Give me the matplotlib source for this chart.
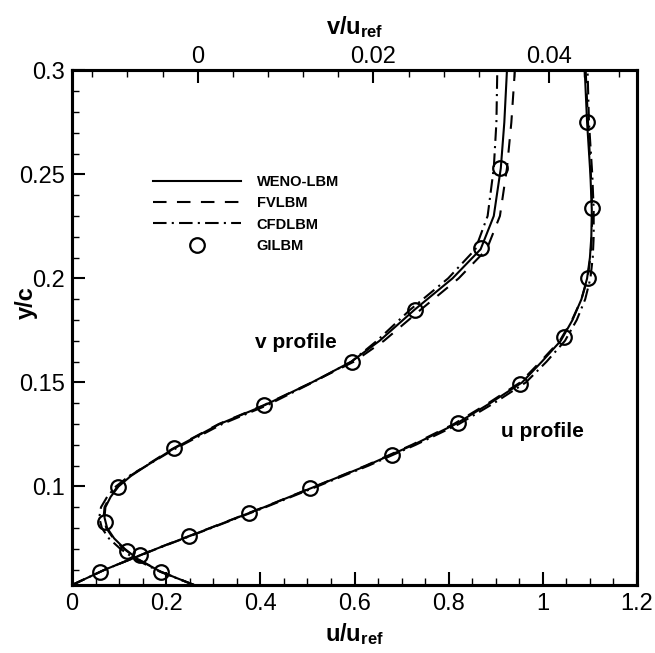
import matplotlib
matplotlib.use("Agg")
import matplotlib.pyplot as plt
from matplotlib.ticker import MultipleLocator, FuncFormatter, FixedLocator

plt.rcParams['font.family'] = ['Liberation Sans', 'DejaVu Sans']
plt.rcParams['mathtext.fontset'] = 'custom'
plt.rcParams['mathtext.rm'] = 'Liberation Sans'
plt.rcParams['mathtext.bf'] = 'Liberation Sans:bold'
plt.rcParams['mathtext.it'] = 'Liberation Sans:italic'

# ---------------- data ----------------
# u profile (bottom axis u/u_ref)
u_y = [0.0526, 0.06, 0.07, 0.08, 0.09, 0.10, 0.11, 0.12, 0.13, 0.14, 0.15, 0.16,
       0.17, 0.18, 0.19, 0.20, 0.21, 0.22, 0.233, 0.25, 0.275, 0.30]
u_weno = [0.0, 0.07, 0.179, 0.294, 0.408, 0.517, 0.626, 0.725, 0.815, 0.888, 0.956, 0.998,
          1.038, 1.063, 1.082, 1.094, 1.100, 1.103, 1.104, 1.101, 1.094, 1.089]
u_fv = [0.0, 0.07, 0.178, 0.293, 0.407, 0.516, 0.624, 0.722, 0.811, 0.884, 0.952, 0.995,
        1.036, 1.062, 1.082, 1.095, 1.101, 1.104, 1.105, 1.102, 1.096, 1.091]
u_cfd = [0.0, 0.07, 0.180, 0.296, 0.411, 0.521, 0.630, 0.730, 0.822, 0.896, 0.964, 1.008,
         1.047, 1.072, 1.090, 1.101, 1.106, 1.108, 1.108, 1.105, 1.098, 1.095]
u_gil_y = [0.0590, 0.0670, 0.0761, 0.087, 0.099, 0.115, 0.1305, 0.149, 0.172, 0.200, 0.234, 0.275]
u_gil = [0.0595, 0.144, 0.249, 0.376, 0.506, 0.680, 0.820, 0.952, 1.046, 1.096, 1.105, 1.094]

# v profile (top axis v/u_ref)
v_y = [0.0526, 0.059, 0.065, 0.07, 0.075, 0.08, 0.085, 0.09, 0.095, 0.10, 0.105, 0.11,
       0.118, 0.13, 0.139, 0.15, 0.16, 0.17, 0.185, 0.20, 0.214, 0.23, 0.253, 0.275, 0.30]
v_weno = [-0.0004, -0.0042, -0.0068, -0.0083, -0.0095, -0.0103, -0.0106, -0.0105, -0.0099,
          -0.0090, -0.0076, -0.0058, -0.0028, 0.0025, 0.0076, 0.0130, 0.0175, 0.0207,
          0.0247, 0.0290, 0.0322, 0.0337, 0.0345, 0.0349, 0.0352]
v_fv = [-0.0004, -0.0042, -0.0068, -0.0084, -0.0096, -0.0104, -0.0107, -0.0106, -0.0100,
        -0.0091, -0.0077, -0.0059, -0.0029, 0.0024, 0.0075, 0.0130, 0.0178, 0.0212,
        0.0254, 0.0297, 0.0329, 0.0344, 0.0352, 0.0357, 0.0361]
v_cfd = [-0.0004, -0.0043, -0.0071, -0.0088, -0.0101, -0.0109, -0.0112, -0.0110, -0.0103,
         -0.0093, -0.0078, -0.0058, -0.0026, 0.0028, 0.0079, 0.0131, 0.0175, 0.0204,
         0.0242, 0.0285, 0.0316, 0.0330, 0.0337, 0.0340, 0.0341]
v_gil_y = [0.0590, 0.0691, 0.0830, 0.0995, 0.1183, 0.139, 0.160, 0.185, 0.2144, 0.253]
v_gil = [-0.00416, -0.0080, -0.01058, -0.0091, -0.00273, 0.00759, 0.0176, 0.0247, 0.0323, 0.0344]

labels = ['WENO-LBM', 'FVLBM', 'CFDLBM', 'GILBM']
u_ticks = [0, 0.2, 0.4, 0.6, 0.8, 1.0, 1.2]
v_ticks = [0, 0.02, 0.04]
y_ticks = [0.1, 0.15, 0.2, 0.25, 0.3]

# ---------------- figure ----------------
fig = plt.figure(figsize=(6.55, 6.53), dpi=100)
ax = fig.add_axes([72/655, 1-585/653, 565/655, (585-70.4)/653])
ax2 = ax.twiny()

lw = 1.5
dash = (0, (6.5, 5))
dashdot = (0, (6.5, 2.5, 1, 2.5))
ms = 10.5
h1, = ax.plot(u_weno, u_y, color='black', lw=lw, ls='-')
h2, = ax.plot(u_fv, u_y, color='black', lw=lw, ls=dash)
h3, = ax.plot(u_cfd, u_y, color='black', lw=lw, ls=dashdot)
h4, = ax.plot(u_gil, u_gil_y, ls='none', marker='o', ms=ms, mfc='none', mec='black', mew=1.6)

ax2.plot(v_weno, v_y, color='black', lw=lw, ls='-')
ax2.plot(v_fv, v_y, color='black', lw=lw, ls=dash)
ax2.plot(v_cfd, v_y, color='black', lw=lw, ls=dashdot)
ax2.plot(v_gil, v_gil_y, ls='none', marker='o', ms=ms, mfc='none', mec='black', mew=1.6)

ax.set_xlim(0, 1.2)
ax.set_ylim(0.0526, 0.3)
ax2.set_xlim(-0.0143, 0.05)

fmt = FuncFormatter(lambda x, p: '%g' % round(x, 6))
ax.xaxis.set_major_locator(FixedLocator(u_ticks))
ax.xaxis.set_minor_locator(MultipleLocator(0.05))
ax.yaxis.set_major_locator(FixedLocator(y_ticks))
ax.yaxis.set_minor_locator(MultipleLocator(0.01))
ax2.xaxis.set_major_locator(FixedLocator(v_ticks))
ax2.xaxis.set_minor_locator(MultipleLocator(0.004))
ax.xaxis.set_major_formatter(fmt)
ax.yaxis.set_major_formatter(fmt)
ax2.xaxis.set_major_formatter(fmt)

tfs = 17
ax.tick_params(axis='x', which='both', direction='in', top=False, bottom=True, labelsize=tfs, pad=6)
ax.tick_params(axis='y', which='both', direction='in', left=True, right=False, labelsize=tfs, pad=5)
ax2.tick_params(axis='x', which='both', direction='in', top=True, bottom=False, labelsize=tfs, pad=2)
for a in (ax, ax2):
    a.tick_params(which='major', length=9.5, width=1.5)
    a.tick_params(which='minor', length=5, width=1.0)
for a in (ax, ax2):
    for s in a.spines.values():
        s.set_linewidth(2.2)

ax.set_xlabel(r'$\mathbf{u/u}_{\mathbf{ref}}$', fontsize=17, labelpad=4)
ax2.set_xlabel(r'$\mathbf{v/u}_{\mathbf{ref}}$', fontsize=17, labelpad=8)
ax.set_ylabel('y/c', fontsize=17, fontweight='bold')
ax.yaxis.set_label_coords((38-72)/565, (585-303)/514.6)

ax.text(0.476, 0.169, 'v profile', fontsize=15, fontweight='bold', ha='center', va='center')
ax.text(1.0, 0.1266, 'u profile', fontsize=15, fontweight='bold', ha='center', va='center')

leg = ax.legend([h1, h2, h3, h4], labels, loc='upper left',
                bbox_to_anchor=((153-72)/565, (585-175)/514.6),
                frameon=False, borderpad=0, borderaxespad=0, handlelength=6.0,
                handletextpad=1.1, labelspacing=0.5, numpoints=1,
                prop={'weight': 'bold', 'size': 10.5})

fig.savefig('out.png', dpi=100)
